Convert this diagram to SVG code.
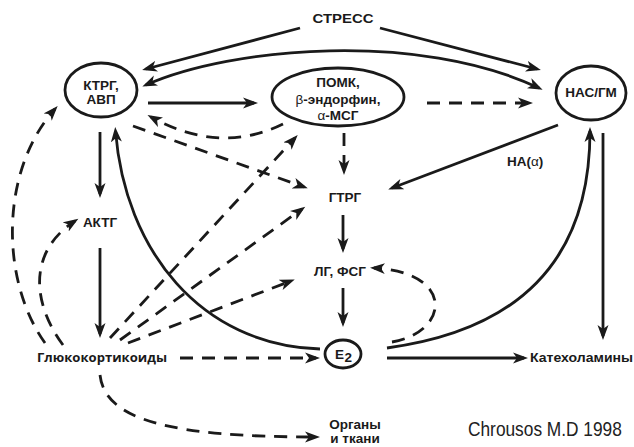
<svg xmlns="http://www.w3.org/2000/svg" width="634" height="447" viewBox="0 0 634 447">
<defs>
<style>
.n{fill:none;stroke:#1a1a1a;stroke-width:2.8}
.t{font-family:"Liberation Sans",Arial,sans-serif;font-weight:bold;font-size:13.5px;fill:#1a1a1a;text-anchor:middle}
.g{font-family:"Open Sans","Liberation Sans",sans-serif;font-weight:bold;font-size:13px;fill:#1a1a1a}
.sym{font-weight:normal}
.s{fill:none;stroke:#1a1a1a;stroke-width:2.8;marker-end:url(#ah)}
.d{fill:none;stroke:#1a1a1a;stroke-width:2.8;stroke-dasharray:13 9;marker-end:url(#ah)}
</style>
<marker id="ah" markerUnits="userSpaceOnUse" markerWidth="16" markerHeight="12" refX="11" refY="6" orient="auto-start-reverse">
<path d="M15,6 L0,0.5 L4,6 L0,11.5 Z" fill="#1a1a1a" stroke="none"/>
</marker>
</defs>

<g id="connectors">
<path class="s" d="M300,28 L146,69"/>
<path class="s" d="M380,28 L537,69"/>
<path class="s" d="M146,85 C232,47 418,31 539,88" marker-start="url(#ah)"/>
<path class="s" d="M148,103 H254"/>
<path class="d" d="M427,103 H529"/>
<path class="d" d="M283,124 Q220,155 151,117"/>
<path class="d" d="M133,126 L304,187"/>
<path class="d" d="M344,133 V171"/>
<path class="s" d="M100,132 V194"/>
<path class="s" d="M320,349 C200,345 125,250 115.5,131"/>
<path class="s" d="M100,248 V334"/>
<path class="d" d="M110,338 L295,138"/>
<path class="d" d="M120,340 L302,209"/>
<path class="d" d="M128,343 L291,281"/>
<path class="d" d="M180,358 H316"/>
<path class="d" d="M100,375 C105,420 170,437 316,437"/>
<path class="d" d="M45,343 C0,280 0,170 55,109"/>
<path class="d" d="M63,345 C30,300 30,250 75,221"/>
<path class="s" d="M343,215 V249"/>
<path class="s" d="M343,288 V323"/>
<path class="s" d="M558,125 L392,188"/>
<path class="s" d="M387,348 C520,330 590,260 590,131"/>
<path class="s" d="M603,133 V336"/>
<path class="s" d="M387,358 H524"/>
<path class="d" d="M392,342 C450,332 455,272 374,268"/>
</g>

<g id="stress"><text class="t" x="343" y="23" font-size="14" textLength="61" lengthAdjust="spacingAndGlyphs">СТРЕСС</text></g>

<g id="ktrg">
<ellipse class="n" cx="101" cy="90" rx="36" ry="27"/>
<text class="t" x="101" y="90">КТРГ,</text>
<text class="t" x="101" y="104">АВП</text>
</g>

<g id="pomk">
<ellipse class="n" cx="338" cy="97" rx="66" ry="29"/>
<text class="t" x="338" y="87">ПОМК,</text>
<text class="t" x="338" y="103.5"><tspan class="sym">β</tspan>-эндорфин,</text>
<text class="t" x="338" y="120"><tspan class="sym">α</tspan>-МСГ</text>
</g>

<g id="nas">
<ellipse class="n" cx="591" cy="93" rx="35" ry="27"/>
<text class="t" x="591" y="97">НАС/ГМ</text>
</g>

<g id="aktg"><text class="t" x="100" y="227">АКТГ</text></g>
<g id="gtrg"><text class="t" x="345" y="202">ГТРГ</text></g>
<g id="lg"><text class="t" x="340" y="276">ЛГ, ФСГ</text></g>
<g id="na"><text class="t" x="507" y="166" style="text-anchor:start">НА(<tspan class="sym">α</tspan>)</text></g>

<g id="e2">
<ellipse class="n" cx="343" cy="354" rx="18" ry="14"/>
<text class="t" x="335" y="358.5" font-size="12" style="text-anchor:start">E</text>
<text class="t" x="344.5" y="362" font-size="7.5" style="text-anchor:start">2</text>
</g>

<g id="gluco"><text class="g" x="37" y="362" textLength="130" lengthAdjust="spacingAndGlyphs">Глюкокортикоиды</text></g>
<g id="kateh"><text class="t" x="530" y="362" style="text-anchor:start" textLength="103" lengthAdjust="spacingAndGlyphs">Катехоламины</text></g>
<g id="organs">
<text class="t" x="355" y="429" font-size="12">Органы</text>
<text class="t" x="355" y="443" font-size="12">и ткани</text>
</g>
<g id="credit"><text transform="translate(468,436) scale(0.866,1)" x="0" y="0" font-family="'Liberation Sans',Arial,sans-serif" font-size="20" fill="#222">Chrousos M.D 1998</text></g>
</svg>
